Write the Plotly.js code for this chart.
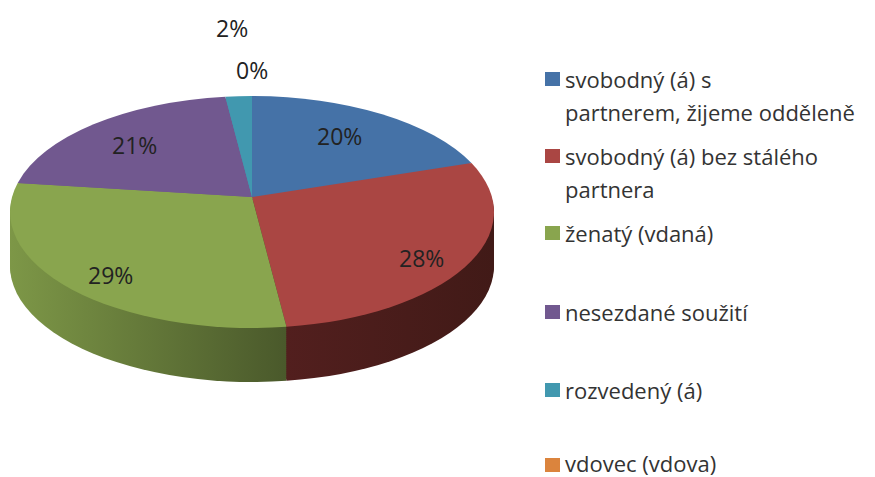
<!DOCTYPE html>
<html><head><meta charset="utf-8">
<script src="https://cdn.plot.ly/plotly-3.0.1.min.js"></script>
<style>html,body{margin:0;padding:0;background:#fff}#c{width:875px;height:477px}</style>
</head><body><div id="c"></div>
<script>
const categories = ['svobodný (á) s partnerem, žijeme odděleně','svobodný (á) bez stálého partnera','ženatý (vdaná)','nesezdané soužití','rozvedený (á)','vdovec (vdova)'];
const values = [20,28,29,21,2,0];
const valueLabels = ['20%','28%','29%','21%','2%','0%'];
const colors = ['#4572A7','#AA4643','#89A54E','#71588F','#4198AF','#DB843D'];
const legendLines = [['svobodný (á) s','partnerem, žijeme odděleně'],['svobodný (á) bez stálého','partnera'],['ženatý (vdaná)'],['nesezdané soužití'],['rozvedený (á)'],['vdovec (vdova)']];

const W=875,H=477, FONT='"Open Sans", sans-serif';
const px=x=>x/W, py=y=>1-y/H;
const DEPTH=54, STEP=2, RX=242, RY=116, CX=252, CY=212, APEX_Y=197;
const labelPos=[[339,136],[421,258],[110,275],[134,145],[232,28],[252,70]];
const legendY=[79,156,233,312,390,463], LINE=33;

const traces=[];
const base={type:'pie',labels:categories,values:values,sort:false,direction:'clockwise',rotation:0,
  textinfo:'none',hoverinfo:'label+percent',showlegend:false,domain:{x:[0,1],y:[0,1]},marker:{colors:colors,line:{width:0}}};
const offsets=[];
for(let d=DEPTH;d>0;d-=STEP){offsets.push(d);traces.push(Object.assign({},base));}
offsets.push(0);traces.push(Object.assign({},base));

const annotations=[],shapes=[];
valueLabels.forEach((t,i)=>annotations.push({xref:'paper',yref:'paper',x:px(labelPos[i][0]),y:py(labelPos[i][1]),text:t,showarrow:false,
  xanchor:'center',yanchor:'middle',borderpad:0,font:{family:FONT,size:23,color:'#222'}}));
legendLines.forEach((lines,i)=>{
  const sy0=i===5?465:legendY[i];
  shapes.push({type:'rect',xref:'paper',yref:'paper',x0:px(545),x1:px(560),y0:py(sy0-7),y1:py(sy0+7),fillcolor:colors[i],line:{width:0}});
  lines.forEach((t,k)=>annotations.push({xref:'paper',yref:'paper',x:px(564),y:py(legendY[i]+k*LINE),text:t,showarrow:false,
    xanchor:'left',yanchor:'middle',borderpad:0,font:{family:FONT,size:22,color:'#333'}}));
});
const gd=document.getElementById('c');
Plotly.newPlot(gd,traces,{width:W,height:H,margin:{l:0,r:0,t:0,b:0},paper_bgcolor:'#fff',showlegend:false,annotations,shapes},{displayModeBar:false}).then(()=>{
  const cd=gd.calcdata[0][0], r=cd.r, cx=cd.cx, cy=cd.cy, sx=RX/r, sy=RY/r;
  const svg=gd.querySelector('.main-svg');
  const ns='http://www.w3.org/2000/svg';
  const defs=document.createElementNS(ns,'defs');
  const grad=(id,a,b,x1,x2)=>{const g=document.createElementNS(ns,'linearGradient');g.setAttribute('id',id);g.setAttribute('gradientUnits','userSpaceOnUse');
    g.setAttribute('x1',cx+x1*r);g.setAttribute('x2',cx+x2*r);g.setAttribute('y1',0);g.setAttribute('y2',0);
    [[0,a],[1,b]].forEach(([o,c])=>{const s=document.createElementNS(ns,'stop');s.setAttribute('offset',o);s.setAttribute('stop-color',c);g.appendChild(s);});defs.appendChild(g);};
  grad('sideRed','#521F1E','#411A17',0.14,1);
  grad('sideGreen','#7D9747','#4A592B',-1,0.14);
  svg.appendChild(defs);
  // perspective: a projective map of the disc onto itself that moves the pie's centre towards the back
  const s=(CY-APEX_Y)/RY, q=Math.sqrt(1-s*s);
  const warp=(x,y)=>{const k=1+s*y;return [x*q/k,(y+s)/k];};
  const re=/^M([-\d.e]+),([-\d.e]+)l([-\d.e]+),([-\d.e]+)a([-\d.e]+),([-\d.e]+) 0 ?([01]) ?([01]) ?([-\d.e]+),([-\d.e]+)Z?$/;
  gd.querySelectorAll('.pielayer .trace').forEach((g,i)=>{
    const dy=offsets[i];
    g.setAttribute('transform',`translate(${CX},${CY+dy}) scale(${sx},${sy}) translate(${-cx},${-cy})`);
    g.querySelectorAll('path.surface').forEach((p,k)=>{
      if(dy>0&&k===1)p.style.fill='url(#sideRed)';
      if(dy>0&&k===2)p.style.fill='url(#sideGreen)';
      const m=(p.getAttribute('d')||'').replace(/\s+/g,' ').match(re);
      if(!m)return;
      const a=+m[3]/r,b=+m[4]/r,c=a+(+m[9])/r,e=b+(+m[10])/r;
      const P0=warp(a,-b),P1=warp(c,-e);
      const t0=Math.atan2(P0[0],P0[1]);let t1=Math.atan2(P1[0],P1[1]);
      let span=t1-t0;while(span<0)span+=2*Math.PI;
      const large=span>Math.PI?1:0;
      p.setAttribute('d',`M${cx},${cy-r*s}L${cx+r*P0[0]},${cy-r*P0[1]}A${r},${r} 0 ${large} 1 ${cx+r*P1[0]},${cy-r*P1[1]}Z`);
    });
  });
});
</script></body></html>
